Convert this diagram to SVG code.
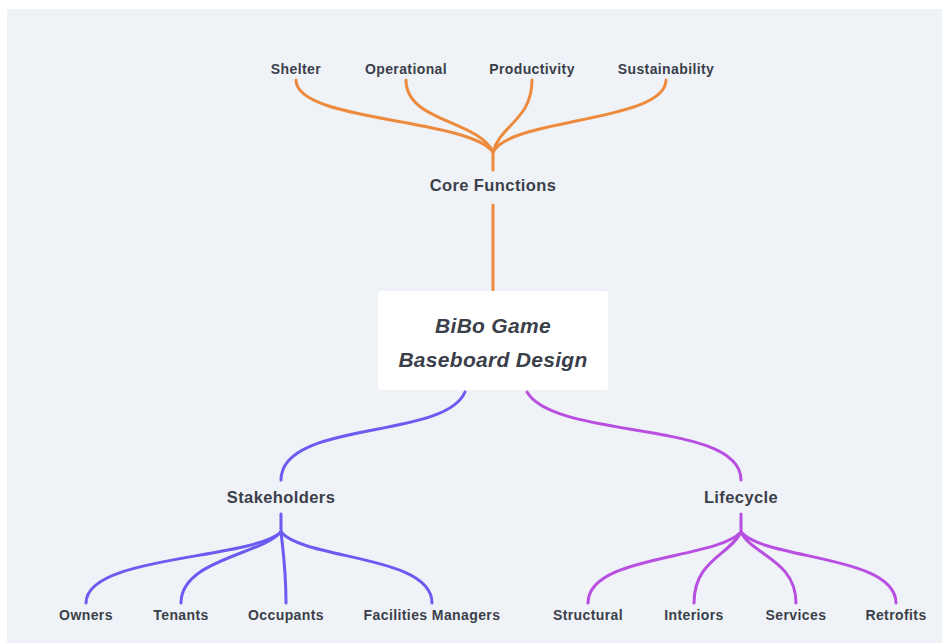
<svg xmlns="http://www.w3.org/2000/svg" width="942" height="643" viewBox="0 0 942 643">
  <style>
    .lbl { font-family: "Liberation Sans", "DejaVu Sans", sans-serif; font-weight: bold; fill: #3b3f4a; text-anchor: middle; }
    .leaf { font-size: 14px; letter-spacing: 0.4px; }
    .branch { font-size: 16.5px; letter-spacing: 0.4px; }
    .root { font-size: 21px; font-style: italic; letter-spacing: 0.3px; }
    .edge { fill: none; stroke-width: 3; stroke-linecap: round; }
    .orange { stroke: #ec8a3e; }
    .blue { stroke: #6a5cf0; }
    .magenta { stroke: #b84fe0; }
  </style>
  <rect x="0" y="0" width="942" height="643" fill="#ffffff"/>
  <rect x="7" y="9" width="935" height="634" fill="#eff3f7"/>

  <g id="connectors">
    <!-- root to Core Functions -->
    <path class="edge orange" d="M493,290 L493,205"/>
    <path class="edge orange" d="M493,170 L493,150"/>
    <path class="edge orange" d="M296,80 C296,122 468,118 493,152"/>
    <path class="edge orange" d="M406,80 C406,122 478,120 493,152"/>
    <path class="edge orange" d="M532,80 C532,120 500,125 493,152"/>
    <path class="edge orange" d="M666,80 C666,122 510,118 493,152"/>

    <!-- root to Stakeholders -->
    <path class="edge blue" d="M465,392 C445,440 281,420 281,480"/>
    <path class="edge blue" d="M281,514 L281,532"/>
    <path class="edge blue" d="M86,603 C86,555 250,560 281,532"/>
    <path class="edge blue" d="M181,603 C181,560 260,555 281,532"/>
    <path class="edge blue" d="M286,603 C286,570 283,550 281,532"/>
    <path class="edge blue" d="M432,603 C432,555 305,560 281,532"/>

    <!-- root to Lifecycle -->
    <path class="edge magenta" d="M527,392 C555,440 741,420 741,480"/>
    <path class="edge magenta" d="M741,514 L741,532"/>
    <path class="edge magenta" d="M588,603 C588,555 715,560 741,532"/>
    <path class="edge magenta" d="M694,603 C694,560 730,555 741,532"/>
    <path class="edge magenta" d="M796,603 C796,560 752,555 741,532"/>
    <path class="edge magenta" d="M896,603 C896,555 765,560 741,532"/>
  </g>

  <g id="root">
    <rect x="378" y="291" width="230" height="99" rx="3" fill="#ffffff"/>
    <text class="lbl root" x="493" y="333">BiBo Game</text>
    <text class="lbl root" x="493" y="367">Baseboard Design</text>
  </g>

  <g id="core-functions"><text class="lbl branch" x="493" y="191">Core Functions</text></g>
  <g id="shelter"><text class="lbl leaf" x="296" y="74">Shelter</text></g>
  <g id="operational"><text class="lbl leaf" x="406" y="74">Operational</text></g>
  <g id="productivity"><text class="lbl leaf" x="532" y="74">Productivity</text></g>
  <g id="sustainability"><text class="lbl leaf" x="666" y="74">Sustainability</text></g>

  <g id="stakeholders"><text class="lbl branch" x="281" y="503">Stakeholders</text></g>
  <g id="owners"><text class="lbl leaf" x="86" y="620">Owners</text></g>
  <g id="tenants"><text class="lbl leaf" x="181" y="620">Tenants</text></g>
  <g id="occupants"><text class="lbl leaf" x="286" y="620">Occupants</text></g>
  <g id="facilities-managers"><text class="lbl leaf" x="432" y="620">Facilities Managers</text></g>

  <g id="lifecycle"><text class="lbl branch" x="741" y="503">Lifecycle</text></g>
  <g id="structural"><text class="lbl leaf" x="588" y="620">Structural</text></g>
  <g id="interiors"><text class="lbl leaf" x="694" y="620">Interiors</text></g>
  <g id="services"><text class="lbl leaf" x="796" y="620">Services</text></g>
  <g id="retrofits"><text class="lbl leaf" x="896" y="620">Retrofits</text></g>
</svg>
